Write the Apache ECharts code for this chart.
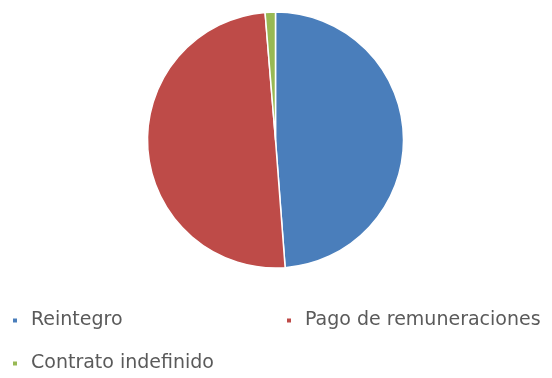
<!DOCTYPE html>
<html>
<head>
<meta charset="utf-8">
<script src="https://cdn.jsdelivr.net/npm/echarts@6/dist/echarts.min.js"></script>
<style>html,body{margin:0;padding:0;background:#fff}#c{width:552px;height:378px}</style>
</head>
<body>
<div id="c"></div>
<script>
const categories = ['Reintegro', 'Pago de remuneraciones', 'Contrato indefinido'];
const values = [48.8, 49.9, 1.3];
const colors = ['#4A7EBB', '#BE4B48', '#98B954'];

const chart = echarts.init(document.getElementById('c'), null, {renderer: 'canvas'});
const legendBase = {
  icon: 'rect', itemWidth: 6, itemHeight: 6, itemGap: 10, padding: 0,
  textStyle: {color: '#5a5a5a', fontFamily: 'DejaVu Sans', fontSize: 19, padding: [0, 0, 0, 8]},
  selectedMode: false
};
chart.setOption({
  animation: false,
  color: colors,
  legend: [
    Object.assign({}, legendBase, {data: [categories[0]], left: 11, top: 311}),
    Object.assign({}, legendBase, {data: [categories[1]], left: 285, top: 311}),
    Object.assign({}, legendBase, {data: [categories[2]], left: 11, top: 354})
  ],
  series: [{
    type: 'pie',
    center: [275.5, 140],
    radius: 128,
    startAngle: 90,
    clockwise: true,
    label: {show: false},
    labelLine: {show: false},
    itemStyle: {borderColor: '#fff', borderWidth: 1.5},
    emphasis: {disabled: true},
    data: categories.map((n, i) => ({name: n, value: values[i]}))
  }]
});
</script>
</body>
</html>
